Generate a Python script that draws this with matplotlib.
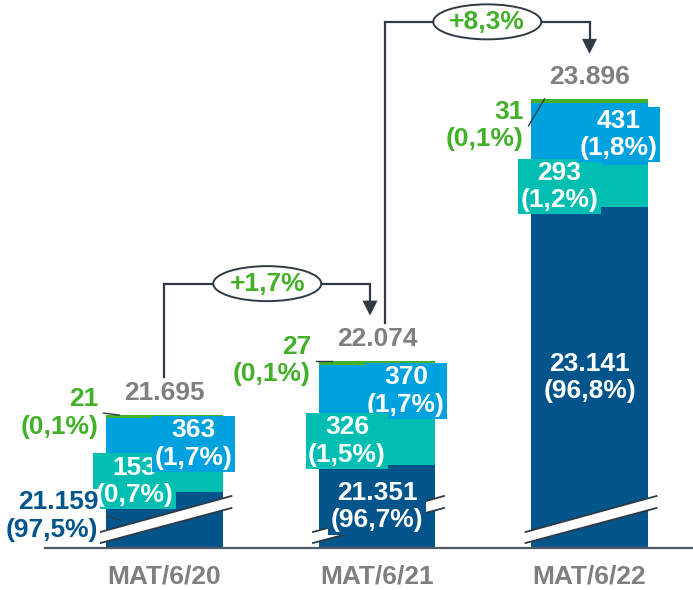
import matplotlib
matplotlib.use("Agg")
import matplotlib.pyplot as plt
from matplotlib.patches import Ellipse, Polygon

plt.rcParams['font.family'] = ['Liberation Sans', 'DejaVu Sans']
plt.rcParams['font.weight'] = 'bold'

# data
periods = ['MAT/6/20', 'MAT/6/21', 'MAT/6/22']
base = [21159, 21351, 23141]
teal = [153, 326, 293]
light = [363, 370, 431]
green = [21, 27, 31]
totals = [21695, 22074, 23896]
base_pct = ['97,5', '96,7', '96,8']
teal_pct = ['0,7', '1,5', '1,2']
light_pct = ['1,7', '1,7', '1,8']
green_pct = ['0,1', '0,1', '0,1']

C_DARK = '#02558A'
C_TEAL = '#00BFB2'
C_LIGHT = '#00A1DF'
C_GREEN = '#43B02A'
C_GRAY = '#7F7F7F'
C_LINE = '#2E3A45'
FS = 19
LS = 1.17

def fmt(v):
    return f"{v:,}".replace(',', '.')

W, H = 693, 590
fig = plt.figure(figsize=(W / 100, H / 100), dpi=100)
ax_h = 548
ax = fig.add_axes([0, (H - ax_h) / H, 1, ax_h / H])
ax.axis('off')
ymin, ymax = 20770, 24584
xmin, xmax = -0.774, 2.487
ax.set_xlim(xmin, xmax)
ax.set_ylim(ymin, ymax)
PX = (xmax - xmin) / W     # data x per pixel
PY = (ymax - ymin) / ax_h  # data y per pixel

x = [0, 1, 2]
bw = 0.55
ax.bar(x, base, bw, color=C_DARK, zorder=2)
b2 = [b + t for b, t in zip(base, teal)]
ax.bar(x, teal, bw, bottom=base, color=C_TEAL, zorder=2)
b3 = [b + l for b, l in zip(b2, light)]
ax.bar(x, light, bw, bottom=b2, color=C_LIGHT, zorder=2)
ax.bar(x, green, bw, bottom=b3, color=C_GREEN, zorder=2)

# baseline
ax.plot([xmin + 45 * PX, xmax], [ymin, ymin], color='#505A62', lw=1.6,
        zorder=5, clip_on=False)

# axis break bands
for c in x:
    xl, xr = c - 64 * PX, c + 67 * PX
    ul, ur = ymin + 16 * PY, ymin + 52 * PY
    ll, lr = ymin + 5 * PY, ymin + 40 * PY
    ax.add_patch(Polygon([(xl, ll), (xr, lr), (xr, ur), (xl, ul)],
                         closed=True, fc='white', ec='none', zorder=3))
    ax.plot([xl, xr], [ul, ur], color=C_LINE, lw=1.3, zorder=3)
    ax.plot([xl, xr], [ll, lr], color=C_LINE, lw=1.3, zorder=3)

# base labels
for i, c in enumerate(x):
    yc = (ymin + base[i]) / 2
    txt = f"{fmt(base[i])}\n({base_pct[i]}%)"
    if i == 0:
        ax.text(c - 66 * PX, yc + 4 * PY, txt, ha='right', va='center',
                color=C_DARK, fontsize=FS, linespacing=LS, zorder=8,
                bbox=dict(boxstyle='square,pad=0.05', fc='white', ec='none'))
        ax.plot([c - 58 * PX, c - 44 * PX], [yc + 4 * PY, yc],
                color=C_LINE, lw=1, zorder=6)
    else:
        ax.text(c, yc, txt, ha='center', va='center', color='white',
                fontsize=FS, linespacing=LS, zorder=6,
                bbox=dict(boxstyle='square,pad=0.1', fc=C_DARK, ec='none'))

# teal / light blue labels with coloured boxes
light_on_top = [True, False, True]
for i, c in enumerate(x):
    zt, zl = (6, 7) if light_on_top[i] else (7, 6)
    ax.text(c - 30 * PX, base[i] + teal[i] / 2, f"{teal[i]}\n({teal_pct[i]}%)",
            ha='center', va='center', color='white', fontsize=FS,
            linespacing=LS, zorder=zt,
            bbox=dict(boxstyle='square,pad=0.08', fc=C_TEAL, ec='none'))
    ax.text(c + 29 * PX, b2[i] + light[i] / 2, f"{light[i]}\n({light_pct[i]}%)",
            ha='center', va='center', color='white', fontsize=FS,
            linespacing=LS, zorder=zl,
            bbox=dict(boxstyle='square,pad=0.08', fc=C_LIGHT, ec='none'))

# green labels with leader lines
green_dy = [2, 0, -27]
for i, c in enumerate(x):
    top = totals[i]
    ly = top + green_dy[i] * PY
    ax.text(c - 66 * PX, ly, f"{green[i]}\n({green_pct[i]}%)", ha='right',
            va='center', color=C_GREEN, fontsize=FS, linespacing=LS, zorder=6)
    ax.plot([c - 61 * PX, c - 45 * PX], [ly, top], color=C_LINE, lw=1, zorder=6)

# totals
for i, c in enumerate(x):
    ax.text(c, totals[i] + 22 * PY, fmt(totals[i]), ha='center', va='center',
            color=C_GRAY, fontsize=FS, zorder=6)

# category labels
for i, c in enumerate(x):
    ax.text(c, ymin - 29 * PY, periods[i], ha='center', va='center',
            color=C_GRAY, fontsize=FS, clip_on=False)

# growth connectors
start_dx = [0, 8]
end_dx = [-7, 0]
for i in range(2):
    x0 = x[i] + start_dx[i] * PX
    x1 = x[i + 1] + end_dx[i] * PX
    y0 = totals[i] + 38 * PY
    yh = totals[i + 1] + 77 * PY
    tip = totals[i + 1] + 45 * PY
    ax.plot([x0, x0, x1, x1], [y0, yh, yh, tip + 14 * PY], color=C_LINE,
            lw=1.6, zorder=4, solid_joinstyle='miter')
    ax.add_patch(Polygon([(x1 - 7.5 * PX, tip + 15 * PY),
                          (x1 + 7.5 * PX, tip + 15 * PY), (x1, tip)],
                         closed=True, fc=C_LINE, ec='none', zorder=4))
    growth = (totals[i + 1] / totals[i] - 1) * 100
    xc = (x0 + x1) / 2
    ax.add_patch(Ellipse((xc, yh), 108 * PX, 35 * PY, fc='white', ec=C_LINE,
                         lw=1.4, zorder=5))
    ax.text(xc, yh, f"+{growth:.1f}%".replace('.', ','), ha='center',
            va='center', color=C_GREEN, fontsize=FS, zorder=6)

fig.savefig('out.png', dpi=100)
